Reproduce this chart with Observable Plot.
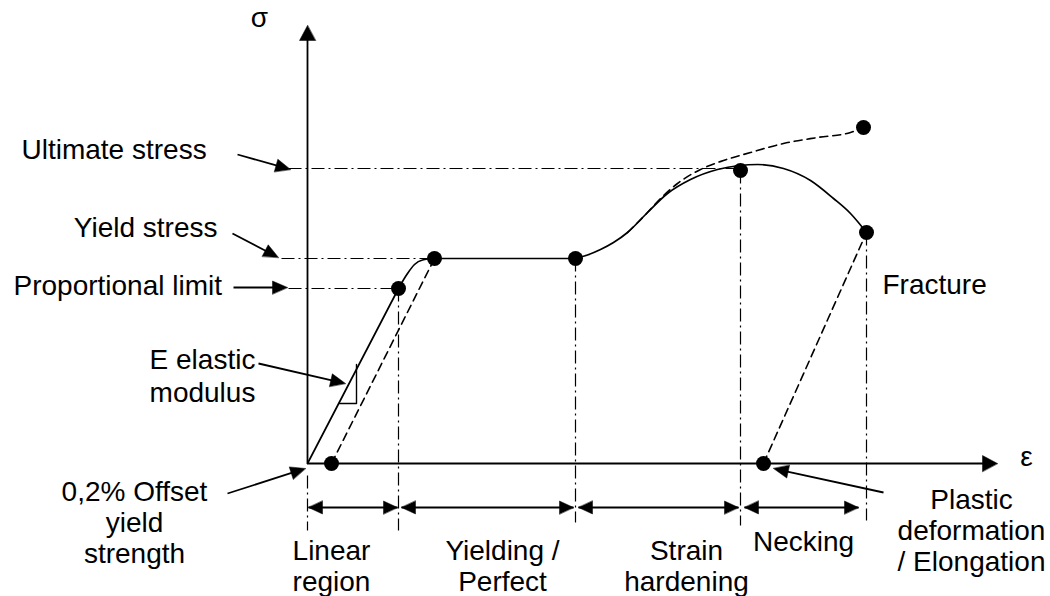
<!DOCTYPE html>
<html><head><meta charset="utf-8">
<script src="https://cdn.jsdelivr.net/npm/d3@7"></script>
<script src="https://cdn.jsdelivr.net/npm/@observablehq/plot@0.6"></script>
<style>html,body{margin:0;padding:0;background:#fff;overflow:hidden}</style>
</head><body><div id="chart"></div>
<script>
// ---- Data (strain ε, stress σ) in chart units ----
const keyNames  = ["offset", "proportional", "yield", "yieldEnd", "ultimate", "fracture", "trueFracture", "plastic"];
const keyStrain = [24, 91, 127, 268, 433, 559, 556, 456];
const keyStress = [0, 175, 205, 205, 293, 231, 336, 0];

const elasticStrain = [0, 91];
const elasticStress = [0, 175];
const transitionStrain = [91, 100, 107, 115, 127];
const transitionStress = [175, 190, 199, 203.5, 205];
const plateauStrain = [127, 268];
const plateauStress = [205, 205];
const hardeningStrain = [268, 280, 293, 306, 320, 340, 360, 383, 410, 432, 450, 476, 503, 526, 543, 559];
const hardeningStress = [205, 208.5, 214, 221, 231, 251, 270, 284, 294, 298, 299, 295, 283, 265, 250, 231];

const trueStrain = [320, 340, 352, 370, 393, 416, 443, 476, 510, 543, 556];
const trueStress = [231, 251, 264, 280, 294, 303, 311, 320, 326, 331, 336];

const offsetStrain = [24, 127];
const offsetStress = [0, 205];
const unloadStrain = [456, 559];
const unloadStress = [0, 231];

// dash-dot guides
const vGuideX = [0, 91, 268, 433, 559];
const vGuideTop = [-12, 175, 205, 293, 231];
const vGuideBottom = [-67, -67, -59, -62, -57];
const hGuideY = [295, 205, 175];
const hGuideFrom = [-19, -26, -19];
const hGuideTo = [433, 127, 91];

// region dimension arrows
const dimStart = [1, 94, 271, 437];
const dimEnd = [90, 266, 431, 551];
const dimLevel = -44;

// annotation arrows
const annFromX = [-70, -75, -74, -49, -80, 576];
const annFromY = [309, 230, 176, 100, -30, -29];
const annToX = [-17, -29, -20, 38, -2, 466];
const annToY = [294, 206, 176, 80, -5, -5];

// axes
const axisEndX = 690;
const axisEndY = 438;

// elastic modulus triangle
const triX = [32, 49, 49];
const triY = [60, 60, 99];

// text labels
const labelText = ["σ", "ε", "Ultimate stress", "Yield stress", "Proportional limit", "E elastic\nmodulus",
  "0,2% Offset\nyield\nstrength", "Linear\nregion", "Yielding /\nPerfect", "Strain\nhardening", "Necking",
  "Plastic\ndeformation\n/ Elongation", "Fracture"];
const labelX = [-48, 719, -286, -90, -294, -105, -173, 24, 195, 379, 496, 664, 575];
const labelY = [445, 6, 324, 246, 188, 118, -15, -75, -75, -75, -68, -24, 189];
const labelAnchor = ["middle", "middle", "start", "end", "start", "middle", "middle", "middle", "middle", "middle", "middle", "middle", "start"];
const labelLH = [1, 1, 1, 1, 1, 1.19, 1.11, 1.1, 1.1, 1.1, 1, 1.1, 1];

// ---- build tables ----
const pts = (xs, ys, id) => xs.map((x, i) => ({x, y: ys[i], id}));
const solidStraight = [
  ...pts(elasticStrain, elasticStress, "e"),
  ...pts(plateauStrain, plateauStress, "p")
];
const transition = pts(transitionStrain, transitionStress, "t");
const hardening = pts(hardeningStrain, hardeningStress, "h");
const dashedStraight = [...pts(offsetStrain, offsetStress, "o"), ...pts(unloadStrain, unloadStress, "u")];
const dashedCurve = pts(trueStrain, trueStress, "tc");

const guides = [
  ...vGuideX.map((x, i) => ({x1: x, x2: x, y1: vGuideTop[i], y2: vGuideBottom[i]})),
  ...hGuideY.map((y, i) => ({x1: hGuideFrom[i], x2: hGuideTo[i], y1: y, y2: y}))
];

// arrows: {x1,y1,x2,y2,len,hw}
const arrows = [];
dimStart.forEach((s, i) => {
  const m = (s + dimEnd[i]) / 2;
  arrows.push({x1: m, y1: dimLevel, x2: s, y2: dimLevel, len: 14, hw: 6.5, shaft: false});
  arrows.push({x1: m, y1: dimLevel, x2: dimEnd[i], y2: dimLevel, len: 14, hw: 6.5, shaft: false});
});
const dimLinks = dimStart.map((s, i) => ({x1: s, x2: dimEnd[i], y1: dimLevel, y2: dimLevel}));
annFromX.forEach((x, i) => arrows.push({x1: x, y1: annFromY[i], x2: annToX[i], y2: annToY[i], len: 15, hw: 6.5, shaft: true}));
arrows.push({x1: 0, y1: 0, x2: axisEndX, y2: 0, len: 15, hw: 8, shaft: true});
arrows.push({x1: 0, y1: 0, x2: 0, y2: axisEndY, len: 15, hw: 8, shaft: true});

const heads = [];
const shafts = [];
arrows.forEach((a, k) => {
  const dx = a.x2 - a.x1, dy = a.y2 - a.y1, n = Math.hypot(dx, dy);
  const ux = dx / n, uy = dy / n, px = -uy, py = ux;
  const bx = a.x2 - ux * a.len, by = a.y2 - uy * a.len;
  heads.push({x: a.x2, y: a.y2, k});
  heads.push({x: bx + px * a.hw, y: by + py * a.hw, k});
  heads.push({x: bx - px * a.hw, y: by - py * a.hw, k});
  if (a.shaft) shafts.push({x1: a.x1, y1: a.y1, x2: bx + ux * 2, y2: by + uy * 2});
});

const keyPoints = keyNames.map((name, i) => ({name, x: keyStrain[i], y: keyStress[i]}));
const labels = labelText.map((t, i) => ({t, x: labelX[i], y: labelY[i], a: labelAnchor[i], lh: labelLH[i]}));
const tri = pts(triX, triY, "tri");

const textMarks = labels.map(l => Plot.text([l], {
  x: "x", y: "y", text: "t", textAnchor: l.a, lineAnchor: (l.t === "σ" || l.t === "ε") ? "middle" : "top",
  lineHeight: l.lh, fontSize: 28, fill: "black"
}));

const chart = Plot.plot({
  width: 1050, height: 596,
  marginTop: 0, marginRight: 0, marginBottom: 0, marginLeft: 0,
  x: {domain: [-307, 743], range: [0, 1050], axis: null},
  y: {domain: [-133, 463], range: [596, 0], axis: null},
  style: {fontFamily: "'Liberation Sans', Arial, sans-serif", background: "white"},
  marks: [
    Plot.link(guides, {x1: "x1", y1: "y1", x2: "x2", y2: "y2", stroke: "black", strokeWidth: 1.2, strokeDasharray: "13,4,2,4"}),
    Plot.link(shafts, {x1: "x1", y1: "y1", x2: "x2", y2: "y2", stroke: "black", strokeWidth: 1.8}),
    Plot.link(dimLinks, {x1: "x1", y1: "y1", x2: "x2", y2: "y2", stroke: "black", strokeWidth: 1.8}),
    Plot.line(heads, {x: "x", y: "y", z: "k", fill: "black", stroke: "black", strokeWidth: 0.5, curve: "linear-closed"}),
    Plot.line(solidStraight, {x: "x", y: "y", z: "id", stroke: "black", strokeWidth: 1.7}),
    Plot.line(transition, {x: "x", y: "y", stroke: "black", strokeWidth: 1.7, curve: "monotone-x"}),
    Plot.line(hardening, {x: "x", y: "y", stroke: "black", strokeWidth: 1.7, curve: "monotone-x"}),
    Plot.line(dashedStraight, {x: "x", y: "y", z: "id", stroke: "black", strokeWidth: 1.6, strokeDasharray: "8,5"}),
    Plot.line(dashedCurve, {x: "x", y: "y", stroke: "black", strokeWidth: 1.6, strokeDasharray: "8,5", curve: "monotone-x"}),
    Plot.line(tri, {x: "x", y: "y", stroke: "black", strokeWidth: 1.4}),
    Plot.dot(keyPoints, {x: "x", y: "y", r: 7.5, fill: "black", stroke: "none"}),
    ...textMarks
  ]
});
document.getElementById("chart").appendChild(chart);
</script>
</body></html>
